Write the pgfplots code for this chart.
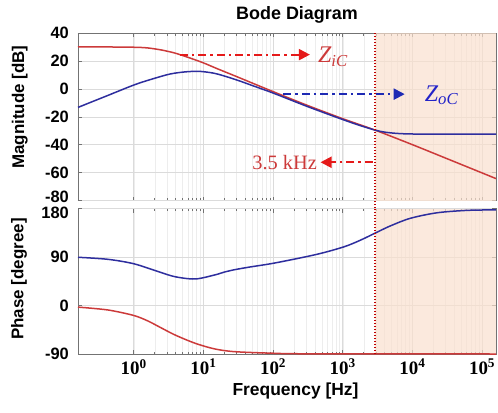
\documentclass[border=0pt]{standalone}
\usepackage[no-math]{fontspec}
\setmainfont{Liberation Sans}
\newfontfamily\tnr{Liberation Serif}
\usepackage{pgfplots}
\pgfplotsset{compat=1.18}
\usetikzlibrary{arrows.meta}

\definecolor{zred}{HTML}{CC3A3A}
\definecolor{zblue}{HTML}{2E2E9E}
\definecolor{arrred}{HTML}{E51A1A}
\definecolor{arrblue}{HTML}{1E2AB4}
\definecolor{lbblue}{HTML}{2323C8}
\definecolor{vline}{HTML}{C00000}
\definecolor{shade}{HTML}{F9E0CE}

\pgfplotsset{
  every axis/.append style={
    scale only axis, width=418bp,
    xmode=log, xmin=0.1585, xmax=158489,
    xtick={1,10,100,1000,10000,100000},
    clip=false,
    grid=both,
    major grid style={black!14, line width=0.5bp},
    minor grid style={black!7, line width=0.4bp},
    axis line style={black!55, line width=0.6bp},
    tick style={black!55, line width=0.5bp},
    tick align=inside, major tick length=4bp, minor tick length=2.5bp,
    yticklabel style={font=\bfseries\fontsize{16.5}{16.5}\selectfont, xshift=-8bp, inner sep=1bp},
  },
}
\tikzset{
  curve/.style={line width=1.5bp, smooth},
  dd/.style={line width=2bp, dash pattern=on 8bp off 4bp on 2.5bp off 4bp},
  ah/.style={-{Triangle[length=11bp,width=11bp]}},
}

\begin{document}
\begin{tikzpicture}
\path[use as bounding box] (0bp,0bp) rectangle (498bp,-413bp);

% magnitude
\begin{axis}[at={(78bp,-33bp)}, anchor=north west, height=167.5bp,
  ymin=-80, ymax=40, ytick={-60,-40,-20,0,20,40},
  yticklabels={-60,-40,-20,0,20,40}, xticklabels={},
  extra y ticks={-80}, extra y tick labels={-80},
  extra y tick style={yticklabel style={yshift=4bp}}]
\addplot[draw=none, fill=shade, fill opacity=0.7] coordinates {(2900,-80) (2900,40) (158489,40) (158489,-80)} -- cycle;
\addplot[curve, zred] coordinates {
 (0.1585,30) (0.3981,30) (1,29.8) (1.585,29.3) (2.512,27.8) (3.981,25.5)
 (6.310,22.2) (10,18.6) (15.85,14.4) (31.62,8.3) (100,-2.0) (316.2,-12.0)
 (1000,-21.4) (2884,-29.5) (10000,-40.0) (31623,-50.1) (158489,-64.3)};
\addplot[curve, zblue] coordinates {
 (0.1585,-13.3) (0.3981,-5.3) (1,2.7) (1.778,6.8) (3.311,10.6) (5.623,12.2)
 (8.913,12.5) (14.13,11.2) (19.95,9.2) (31.62,6.0) (56.23,1.5) (100,-3.0)
 (316.2,-12.8) (1000,-22.0) (1778,-26.3) (2884,-29.5) (3981,-31.0)
 (6310,-32.0) (12589,-32.4) (158489,-32.4)};
\addplot[vline, line width=1.4bp, dash pattern=on 1.5bp off 1.5bp] coordinates {(2900,-85.5) (2900,40)};
\draw[dd, arrred, ah] (axis cs:4.6,24.5) -- (axis cs:338,24.5);
\node[anchor=west, text=zred, font=\tnr\itshape\fontsize{24}{24}\selectfont, inner sep=0pt] at (axis cs:440,23) {Z\textsubscript{iC}};
\draw[dd, arrblue, ah] (axis cs:141,-3.8) -- (axis cs:7760,-3.8);
\node[anchor=west, text=lbblue, font=\tnr\itshape\fontsize{24}{24}\selectfont, inner sep=0pt] at (axis cs:15000,-4.5) {Z\textsubscript{oC}};
\draw[dd, arrred, ah] (axis cs:2700,-52.6) -- (axis cs:480,-52.6);
\node[anchor=east, text=zred, font=\tnr\fontsize{20.5}{20.5}\selectfont, inner sep=0pt] at (axis cs:430,-52.6) {3.5 kHz};
\end{axis}

% phase
\begin{axis}[at={(78bp,-208.5bp)}, anchor=north west, height=145.5bp,
  ymin=-90, ymax=180, ytick={-90,0,90}, yticklabels={-90,0,90},
  extra y ticks={180}, extra y tick labels={180},
  extra y tick style={yticklabel style={yshift=-4bp}},
  xticklabels={10\textsuperscript{0},10\textsuperscript{1},10\textsuperscript{2},10\textsuperscript{3},10\textsuperscript{4},10\textsuperscript{5}},
  xticklabel style={font=\tnr\bfseries\fontsize{19}{19}\selectfont, yshift=-4bp, inner sep=1bp}]
\addplot[draw=none, fill=shade, fill opacity=0.7] coordinates {(2900,-90) (2900,180) (158489,180) (158489,-90)} -- cycle;
\addplot[curve, zred] coordinates {
 (0.1585,-3) (0.4266,-8.3) (1,-18.5) (1.585,-28.5) (2.239,-38.5) (3.890,-54.5)
 (7.586,-70) (14.45,-80.5) (28.18,-85.7) (107.2,-88.7) (316.2,-89.6) (158489,-90)};
\addplot[curve, zblue] coordinates {
 (0.1585,89.5) (0.4266,85.7) (1,77.5) (2.239,63) (3.890,53.5) (7.586,49.2)
 (14.45,56.6) (19.95,62) (28.18,66.5) (46.77,71.5) (107.2,79) (426.6,95)
 (1047,109) (1778,121) (2884,134) (4786,147.5) (9333,161.8) (22387,172)
 (60256,176.5) (158489,177.5)};
\addplot[vline, line width=1.4bp, dash pattern=on 1.5bp off 1.5bp] coordinates {(2900,-90) (2900,180)};
\end{axis}

\node[anchor=base, font=\bfseries\fontsize{18}{18}\selectfont] at (297bp,-19.3bp) {Bode Diagram};
\node[anchor=base, rotate=90, font=\bfseries\fontsize{17}{17}\selectfont] at (24bp,-107bp) {Magnitude [dB]};
\node[anchor=base, rotate=90, font=\bfseries\fontsize{17}{17}\selectfont] at (23.3bp,-279bp) {Phase [degree]};
\node[anchor=base, inner sep=0pt, font=\bfseries\fontsize{17.5}{17.5}\selectfont] at (295.5bp,-395bp) {Frequency [Hz]};
\end{tikzpicture}
\end{document}
